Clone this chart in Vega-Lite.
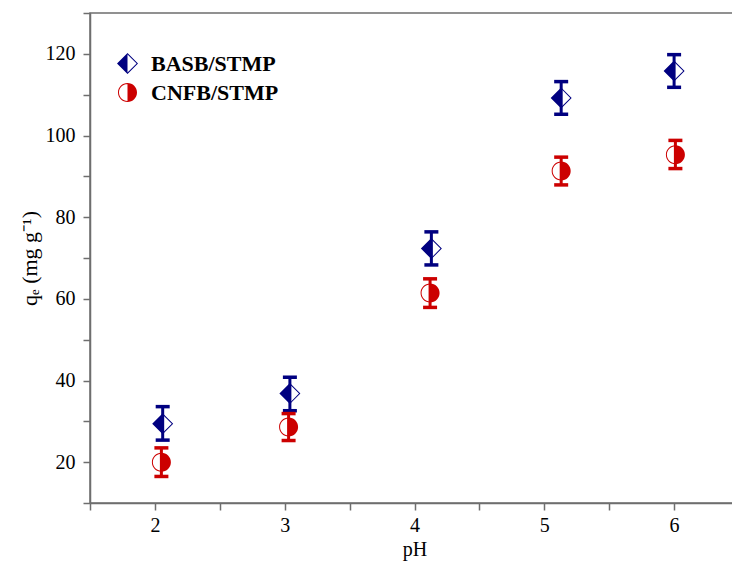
{
  "$schema": "https://vega.github.io/schema/vega-lite/v6.json",
  "width": 649,
  "height": 490,
  "autosize": "none",
  "padding": {"left": 90, "top": 13, "right": 0, "bottom": 62},
  "background": "white",
  "config": {
    "view": {"stroke": "#6e6e6e", "strokeWidth": 1.5},
    "axis": {
      "grid": false,
      "domainColor": "#6e6e6e",
      "domainWidth": 1.5,
      "tickColor": "#6e6e6e",
      "tickWidth": 1.5,
      "labelFont": "Liberation Serif",
      "labelFontSize": 20,
      "labelColor": "black",
      "labelOverlap": false,
      "labelFlush": false,
      "titleFont": "Liberation Serif",
      "titleColor": "black",
      "titleFontWeight": "normal"
    },
    "legend": {
      "orient": "none",
      "legendX": 26.5,
      "legendY": 39.5,
      "padding": 0,
      "labelFont": "Liberation Serif",
      "labelFontWeight": "bold",
      "labelFontSize": 22,
      "labelColor": "black",
      "labelOffset": 12.5,
      "symbolSize": 441,
      "symbolStrokeWidth": 0,
      "symbolOpacity": 1,
      "rowPadding": 7
    }
  },
  "data": {
    "values": [
      {"pH": 2.06, "qe": 29.4, "lo": 25.4, "hi": 33.6, "series": "BASB/STMP"},
      {"pH": 3.04, "qe": 36.8, "lo": 32.6, "hi": 40.8, "series": "BASB/STMP"},
      {"pH": 4.13, "qe": 72.3, "lo": 68.3, "hi": 76.4, "series": "BASB/STMP"},
      {"pH": 5.13, "qe": 109.2, "lo": 105.2, "hi": 113.2, "series": "BASB/STMP"},
      {"pH": 6.0, "qe": 115.8, "lo": 111.8, "hi": 119.8, "series": "BASB/STMP"},
      {"pH": 2.05, "qe": 20.0, "lo": 16.5, "hi": 23.5, "series": "CNFB/STMP"},
      {"pH": 3.03, "qe": 28.6, "lo": 25.3, "hi": 31.9, "series": "CNFB/STMP"},
      {"pH": 4.12, "qe": 61.4, "lo": 57.9, "hi": 64.9, "series": "CNFB/STMP"},
      {"pH": 5.13, "qe": 91.3, "lo": 87.9, "hi": 94.7, "series": "CNFB/STMP"},
      {"pH": 6.01, "qe": 95.3, "lo": 91.9, "hi": 98.8, "series": "CNFB/STMP"}
    ]
  },
  "encoding": {
    "x": {
      "field": "pH",
      "type": "quantitative",
      "scale": {"domain": [1.5, 6.5], "nice": false, "zero": false},
      "axis": {
        "title": "pH",
        "values": [1.5, 2, 2.5, 3, 3.5, 4, 4.5, 5, 5.5, 6, 6.5],
        "labelExpr": "datum.value % 1 === 0 ? format(datum.value, 'd') : ''",
        "tickSize": 7,
        "labelPadding": 5,
        "titleFontSize": 20,
        "titlePadding": 4,
        "encode": {"ticks": {"update": {"y2": {"signal": "datum.value % 1 === 0 ? 7 : 3.5"}}}}
      }
    }
  },
  "layer": [
    {
      "mark": {"type": "rule", "strokeWidth": 3},
      "encoding": {
        "y": {
          "field": "lo",
          "type": "quantitative",
          "scale": {"domain": [10, 130], "nice": false, "zero": false},
          "axis": {
            "title": "qₑ (mg g⁻¹)",
            "values": [10, 20, 30, 40, 50, 60, 70, 80, 90, 100, 110, 120, 130],
            "labelExpr": "datum.value % 20 === 0 ? format(datum.value, 'd') : ''",
            "tickSize": 7,
            "labelPadding": 8,
            "titleFontSize": 22,
            "titlePadding": 4,
            "encode": {"ticks": {"update": {"x2": {"signal": "datum.value % 20 === 0 ? -7 : -3.5"}}}}
          }
        },
        "y2": {"field": "hi"},
        "color": {
          "field": "series",
          "type": "nominal",
          "scale": {"domain": ["BASB/STMP", "CNFB/STMP"], "range": ["#000080", "#CC0000"]},
          "legend": null
        }
      }
    },
    {
      "mark": {"type": "tick", "orient": "horizontal", "thickness": 3.5, "size": 14, "opacity": 1},
      "encoding": {
        "y": {"field": "lo", "type": "quantitative"},
        "color": {"field": "series", "type": "nominal", "legend": null}
      }
    },
    {
      "mark": {"type": "tick", "orient": "horizontal", "thickness": 3.5, "size": 14, "opacity": 1},
      "encoding": {
        "y": {"field": "hi", "type": "quantitative"},
        "color": {"field": "series", "type": "nominal", "legend": null}
      }
    },
    {
      "mark": {"type": "point", "filled": true, "opacity": 1, "strokeWidth": 0, "size": 441},
      "encoding": {
        "y": {"field": "qe", "type": "quantitative"},
        "shape": {
          "field": "series",
          "type": "nominal",
          "scale": {
            "range": [
              "M-1,0L0,-1L1,0L0,1ZM-0.865,0L0,0.865L0.865,0L0,-0.865ZM-1,0L0,-1L0,1Z",
              "M0,-0.905A0.905,0.905,0,1,1,0,0.905A0.905,0.905,0,1,1,0,-0.905ZM0,-0.81A0.81,0.81,0,1,0,0,0.81A0.81,0.81,0,1,0,0,-0.81ZM0,-0.905A0.905,0.905,0,0,1,0,0.905Z"
            ]
          },
          "legend": {
            "title": null,
            "labelExpr": "datum.label == 'CNFB/STMP' ? '\u00a0CNFB/STMP' : datum.label"
          }
        },
        "fill": {
          "field": "series",
          "type": "nominal",
          "scale": {"range": ["#000080", "#CC0000"]},
          "legend": {
            "title": null,
            "labelExpr": "datum.label == 'CNFB/STMP' ? '\u00a0CNFB/STMP' : datum.label"
          }
        }
      }
    }
  ]
}
